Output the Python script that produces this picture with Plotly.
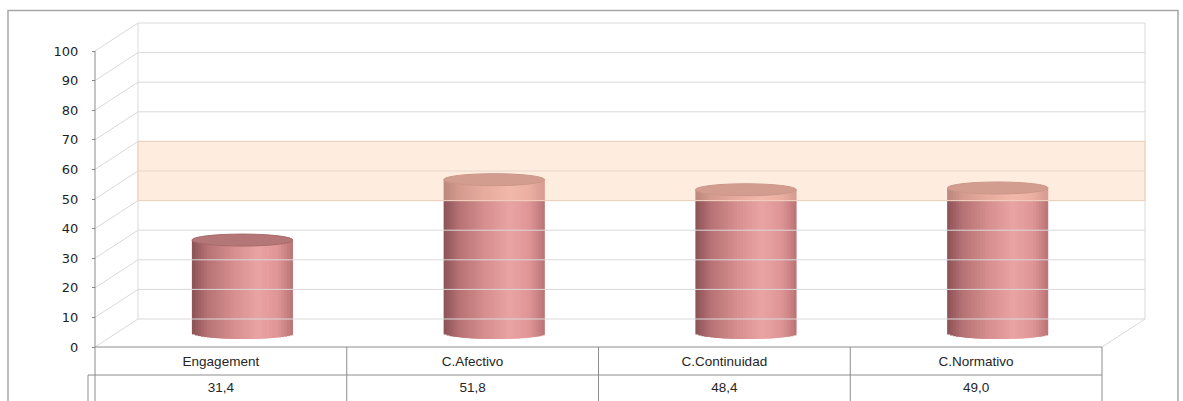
import numpy as np
import plotly.graph_objects as go

# ---------------- data ----------------
categories = ["Engagement", "C.Afectivo", "C.Continuidad", "C.Normativo"]
values = [31.4, 51.8, 48.4, 49.0]
y_ticks = [0, 10, 20, 30, 40, 50, 60, 70, 80, 90, 100]
band_range = [40, 60]          # highlighted band on the back wall

# ---------------- geometry (layout constants) ----------------
W, H = 1183, 401
PX_CAT = 251.75                # pixels per category
PX_UNIT = 2.96                 # pixels per value unit
FRONT_LEFT_PX = 95
ZERO_PX = 347
DX = 43 / PX_CAT               # depth offset (x) of back wall
DY = 28 / PX_UNIT              # depth offset (y) of back wall
CYL_HALF_W = 50.5 / PX_CAT
ELL_B = 6.0 / PX_UNIT
N_STRIPS = 34

x_range = [-0.5 - FRONT_LEFT_PX / PX_CAT, -0.5 + (W - FRONT_LEFT_PX) / PX_CAT]
y_range = [-(H - ZERO_PX) / PX_UNIT, ZERO_PX / PX_UNIT]
n = len(categories)
x_left, x_right = -0.5, n - 0.5

fig = go.Figure()

grid_col = "#d9d9d9"
# ---- side wall diagonals + back wall gridlines ----
gx, gy = [], []
for v in y_ticks:
    gx += [x_left, x_left + DX, x_right + DX, None]
    gy += [v, v + DY, v + DY, None]
gx += [x_left + DX, x_left + DX, None, x_right + DX, x_right + DX, None, x_right, x_right + DX, None]
gy += [DY, y_ticks[-1] + DY, None, DY, y_ticks[-1] + DY, None, 0, DY, None]
fig.add_trace(go.Scatter(x=gx, y=gy, mode="lines", line=dict(color=grid_col, width=1),
                         hoverinfo="skip", showlegend=False))

# ---- cylinders as shaded, overlapping strips ----
stops_t = [-1.0, -0.7, -0.2, 0.3, 0.7, 1.0]
stops_c = np.array([[140, 82, 86], [182, 114, 116], [214, 142, 142],
                    [234, 164, 164], [224, 150, 150], [186, 116, 118]])

def shade(t):
    return "rgb(%d,%d,%d)" % tuple(int(np.interp(t, stops_t, stops_c[:, k])) for k in range(3))

sw = 2 * CYL_HALF_W / N_STRIPS
bx, by, bb, bc, bw = [], [], [], [], []
for i, v in enumerate(values):
    cx = i + DX / 2
    cy0 = DY / 2
    for k in range(N_STRIPS):
        t = -1 + (k + 0.5) * 2 / N_STRIPS
        base = cy0 - ELL_B * np.sqrt(max(0.0, 1 - t * t))
        top = cy0 + v
        left = cx - CYL_HALF_W + k * sw
        width = sw * 2 if k < N_STRIPS - 1 else sw
        bx.append(left + width / 2)
        bw.append(width)
        bb.append(base)
        by.append(top - base)
        bc.append(shade(t))
fig.add_trace(go.Bar(x=bx, y=by, base=bb, width=bw, marker=dict(color=bc, line=dict(width=0)),
                     hoverinfo="skip", showlegend=False))

shapes = []
for i, v in enumerate(values):
    cx = i + DX / 2
    cy = DY / 2 + v
    shapes.append(dict(type="circle", xref="x", yref="y", layer="above",
                       x0=cx - CYL_HALF_W, x1=cx + CYL_HALF_W, y0=cy - ELL_B, y1=cy + ELL_B,
                       fillcolor="rgb(180,118,118)", line=dict(color="rgb(168,106,106)", width=1)))
shapes.append(dict(type="rect", xref="x", yref="y", layer="above",
                   x0=x_left + DX, x1=x_right + DX,
                   y0=band_range[0] + DY, y1=band_range[1] + DY,
                   fillcolor="rgba(252,212,178,0.42)", line=dict(color="rgba(240,205,180,0.8)", width=1)))
shapes.append(dict(type="rect", xref="paper", yref="paper", layer="above",
                   x0=8 / W, x1=1178 / W, y0=-0.05, y1=1 - 10.5 / H,
                   line=dict(color="#a6a6a6", width=1.5), fillcolor="rgba(0,0,0,0)"))

# ---- front axis line + data table lines ----
row2 = -28 / PX_UNIT
key_x = x_left - 7 / PX_CAT
tx, ty = [], []
tx += [x_left, x_left, None]; ty += [y_ticks[-1], y_range[0], None]
tx += [x_left, x_right, None]; ty += [0, 0, None]
tx += [key_x, x_right, None]; ty += [row2, row2, None]
tx += [key_x, key_x, None]; ty += [row2, y_range[0], None]
for j in range(1, n + 1):
    tx += [j - 0.5, j - 0.5, None]; ty += [0, y_range[0], None]
fig.add_trace(go.Scatter(x=tx, y=ty, mode="lines", line=dict(color="#8c8c8c", width=1),
                         hoverinfo="skip", showlegend=False))

tfont = dict(family="Liberation Sans, Arial, sans-serif", size=13.5, color="#262626")
fig.add_trace(go.Scatter(x=list(range(n)), y=[row2 / 2 - 0.5] * n, mode="text", text=categories,
                         textfont=tfont, hoverinfo="skip", showlegend=False, cliponaxis=False))
fig.add_trace(go.Scatter(x=list(range(n)), y=[row2 - 4.6] * n, mode="text",
                         text=[f"{v:.1f}".replace(".", ",") for v in values],
                         textfont=tfont, hoverinfo="skip", showlegend=False, cliponaxis=False))

fig.update_layout(
    width=W, height=H, margin=dict(l=0, r=0, t=0, b=0),
    paper_bgcolor="white", plot_bgcolor="white",
    barmode="overlay", hovermode=False, showlegend=False,
    shapes=shapes,
    xaxis=dict(range=x_range, visible=False, fixedrange=True),
    yaxis=dict(range=y_range, anchor="free", position=FRONT_LEFT_PX / W,
               tickvals=y_ticks, ticktext=[str(t) for t in y_ticks],
               ticks="outside", ticklen=3, tickcolor="#868686",
               ticklabelstandoff=11,
               tickfont=dict(family="DejaVu Sans, Verdana, sans-serif", size=13, color="#1f1f1f"),
               showgrid=False, zeroline=False, showline=False, fixedrange=True),
)

fig.write_html("out.html")
